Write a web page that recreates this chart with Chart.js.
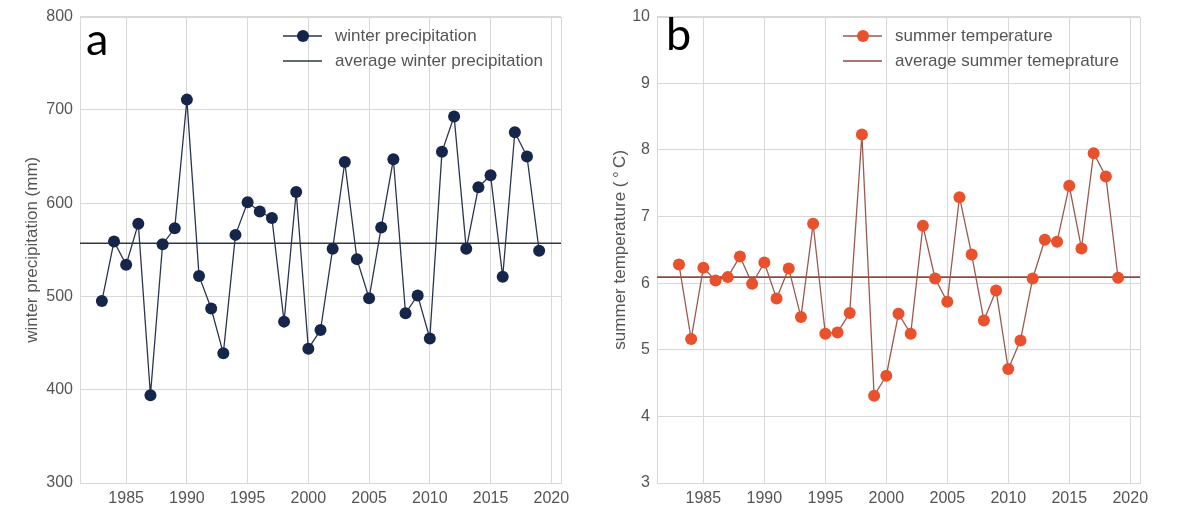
<!DOCTYPE html>
<html>
<head>
<meta charset="utf-8">
<script src="https://cdn.jsdelivr.net/npm/chart.js@4.4.1/dist/chart.umd.min.js"></script>
<style>
body{margin:0;background:#fff;width:1178px;height:511px;overflow:hidden;position:relative;}
canvas{position:absolute;top:0;}
#cnv_a{left:0;}
#cnv_b{left:577px;}
.panel_tag{position:absolute;font-family:Lato,"Liberation Sans",sans-serif;font-size:45px;color:#000;line-height:1;}
#tag_a{left:86px;top:16px;}
#tag_b{left:666px;top:11px;}
</style>
</head>
<body>
<canvas id="cnv_a" width="580" height="511"></canvas>
<canvas id="cnv_b" width="580" height="511"></canvas>
<div class="panel_tag" id="tag_a">a</div>
<div class="panel_tag" id="tag_b">b</div>
<script>
/*
    data
        years, two series, their averages, tick lists
*/
var years = [1983, 1984, 1985, 1986, 1987, 1988, 1989, 1990, 1991, 1992,
             1993, 1994, 1995, 1996, 1997, 1998, 1999, 2000, 2001, 2002,
             2003, 2004, 2005, 2006, 2007, 2008, 2009, 2010, 2011, 2012,
             2013, 2014, 2015, 2016, 2017, 2018, 2019];
var winter_precipitation = [495, 559, 534, 578, 394, 556, 573, 711, 522, 487,
                            439, 566, 601, 591, 584, 473, 612, 444, 464, 551,
                            644, 540, 498, 574, 647, 482, 501, 455, 655, 693,
                            551, 617, 630, 521, 676, 650, 549];
var summer_temperature = [6.28, 5.16, 6.23, 6.04, 6.09, 6.40, 5.99, 6.31, 5.77, 6.22,
                          5.49, 6.89, 5.24, 5.26, 5.55, 8.23, 4.31, 4.61, 5.54, 5.24,
                          6.86, 6.07, 5.72, 7.29, 6.43, 5.44, 5.89, 4.71, 5.14, 6.07,
                          6.65, 6.62, 7.46, 6.52, 7.95, 7.60, 6.08];
var avg_winter_precipitation = 557;
var avg_summer_temperature = 6.09;

var x_ticks = [1985, 1990, 1995, 2000, 2005, 2010, 2015, 2020];
var y_ticks_winter = [300, 400, 500, 600, 700, 800];
var y_ticks_summer = [3, 4, 5, 6, 7, 8, 9, 10];
var x_min = 1981.2;
var x_max = 2020.8;

var font_family = '"Liberation Sans", Arial, sans-serif';
var text_color = '#555';
var grid_color = '#d8d8d8';

// legend drawn inside the axes, like matplotlib's upper right legend
var plugin_legend_inside = {
    id: 'legend_inside',
    beforeDatasetsDraw: function(chart){
        // frame round the plot area
        var area = chart.chartArea;
        var ctx = chart.ctx;
        ctx.save();
        ctx.strokeStyle = grid_color;
        ctx.lineWidth = 1;
        ctx.strokeRect(Math.round(area.left) + 0.5, Math.round(area.top) + 0.5,
                       Math.round(area.right - area.left), Math.round(area.bottom - area.top));
        ctx.restore();
    },
    afterDraw: function(chart){
        var cfg = chart.options.plugins.legend_inside;
        var ctx = chart.ctx;
        ctx.save();
        ctx.font = '17px ' + font_family;
        ctx.textBaseline = 'middle';
        for(var i in cfg.items){
            var it = cfg.items[i];
            var y = cfg.y + i * cfg.row;
            ctx.strokeStyle = it.line;
            ctx.lineWidth = it.width;
            ctx.beginPath();
            ctx.moveTo(cfg.x, y);
            ctx.lineTo(cfg.x + 39, y);
            ctx.stroke();
            if(it.dot){
                ctx.fillStyle = it.dot;
                ctx.beginPath();
                ctx.arc(cfg.x + 20, y, 6, 0, Math.PI * 2);
                ctx.fill();
            }
            ctx.fillStyle = text_color;
            ctx.fillText(it.label, cfg.x + 52, y);
        }
        ctx.restore();
    }
};

function fnc_points(values){
    var points = [];
    for(var i in years){
        points.push({x: years[i], y: values[i]});
    }
    return points;
}

function fnc_chart_panel(id_canvas, panel){
    var cnx = document.getElementById(id_canvas);
    var configuration = {
        type: 'line',
        data: {
            datasets: [
                {
                    label: panel.label,
                    data: fnc_points(panel.values),
                    borderColor: panel.line_color,
                    borderWidth: 1.3,
                    pointRadius: 6,
                    pointBorderWidth: 0,
                    pointBackgroundColor: panel.dot_color,
                    tension: 0,
                    order: 1
                },
                {
                    label: panel.avg_label,
                    data: [{x: x_min, y: panel.avg}, {x: x_max, y: panel.avg}],
                    borderColor: panel.avg_color,
                    borderWidth: 1.6,
                    pointRadius: 0,
                    order: 2
                }
            ]
        },
        options: {
            responsive: false,
            animation: false,
            devicePixelRatio: 1,
            layout: {padding: {top: 13, right: panel.pad_right, bottom: 0, left: 0}},
            plugins: {
                legend: {display: false},
                tooltip: {enabled: false},
                legend_inside: {
                    x: panel.legend_x, y: 36, row: 25,
                    items: [
                        {label: panel.label, line: panel.line_color, dot: panel.dot_color, width: 1.5},
                        {label: panel.avg_label, line: panel.avg_color, dot: null, width: 1.6}
                    ]
                }
            },
            scales: {
                x: {
                    type: 'linear',
                    min: x_min,
                    max: x_max,
                    afterBuildTicks: function(scale){
                        scale.ticks = x_ticks.map(function(v){ return {value: v}; });
                    },
                    afterFit: function(scale){ scale.height = 28; },
                    grid: {color: grid_color, drawTicks: false},
                    border: {color: grid_color},
                    ticks: {
                        color: text_color,
                        font: {size: 16, family: font_family},
                        padding: 6,
                        autoSkip: false,
                        maxRotation: 0,
                        callback: function(v){ return String(v); }
                    }
                },
                y: {
                    min: panel.y_ticks[0],
                    max: panel.y_ticks[panel.y_ticks.length - 1],
                    afterBuildTicks: function(scale){
                        scale.ticks = panel.y_ticks.map(function(v){ return {value: v}; });
                    },
                    afterFit: function(scale){ scale.width = 80; },
                    grid: {color: grid_color, drawTicks: false},
                    border: {color: grid_color},
                    ticks: {
                        color: text_color,
                        font: {size: 16, family: font_family},
                        padding: 7,
                        callback: function(v){ return String(v); }
                    },
                    title: {
                        display: true,
                        text: panel.y_title,
                        color: text_color,
                        font: {size: 17, family: font_family},
                        padding: {top: panel.title_pad, bottom: 0}
                    }
                }
            }
        },
        plugins: [plugin_legend_inside]
    };
    new Chart(cnx, configuration);
}

fnc_chart_panel('cnv_a', {
    values: winter_precipitation,
    avg: avg_winter_precipitation,
    label: 'winter precipitation',
    avg_label: 'average winter precipitation',
    line_color: '#2a3550',
    dot_color: '#16254a',
    avg_color: '#2f3748',
    y_ticks: y_ticks_winter,
    y_title: 'winter precipitation (mm)',
    title_pad: 22,
    pad_right: 19,
    legend_x: 283
});

fnc_chart_panel('cnv_b', {
    values: summer_temperature,
    avg: avg_summer_temperature,
    label: 'summer temperature',
    avg_label: 'average summer temeprature',
    line_color: '#9a5a4e',
    dot_color: '#e8512b',
    avg_color: '#8e4a3e',
    y_ticks: y_ticks_summer,
    y_title: 'summer temperature (\u2009\u00B0\u2009C)',
    title_pad: 33,
    pad_right: 17,
    legend_x: 266
});
</script>
</body>
</html>
